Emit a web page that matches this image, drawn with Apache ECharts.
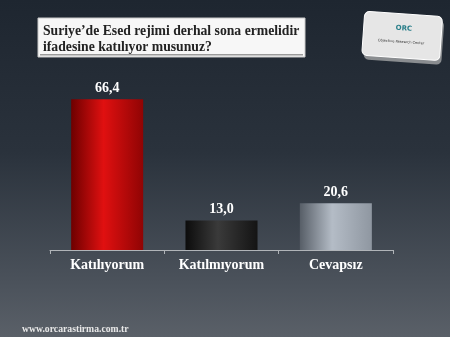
<!DOCTYPE html>
<html><head><meta charset="utf-8">
<script src="https://cdn.jsdelivr.net/npm/echarts@6/dist/echarts.min.js"></script>
<style>
html,body{margin:0;padding:0;}
#c{width:450px;height:337px;background:linear-gradient(to bottom,#1e2630 0%,#2a323c 45%,#4c535c 85%,#5a6068 100%);}
</style></head>
<body><div id="c"></div>
<script>
var titleLines = ["Suriye\u2019de Esed rejimi derhal sona ermelidir", "ifadesine kat\u0131l\u0131yor musunuz?"];
var categories = ["Kat\u0131l\u0131yorum", "Kat\u0131lm\u0131yorum", "Cevaps\u0131z"];
var values = [66.4, 13.0, 20.6];
var footer = "www.orcarastirma.com.tr";

function grad(c1, c2, c3) {
  return new echarts.graphic.LinearGradient(0, 0, 1, 0, [
    {offset: 0, color: c1}, {offset: 0.45, color: c2}, {offset: 1, color: c3}
  ]);
}
var barColors = [
  grad('#6e0000', '#e01010', '#900404'),
  grad('#0c0c0c', '#3a3a3a', '#141414'),
  grad('#575e67', '#b4bcc6', '#8f97a1')
];
var serif = '"Liberation Serif"';

var chart = echarts.init(document.getElementById('c'));
chart.setOption({
  animation: false,
  grid: {left: 50, right: 57, top: 91, bottom: 87},
  xAxis: {
    type: 'category',
    data: categories,
    axisLine: {lineStyle: {color: '#b0b4b8', width: 1}},
    axisTick: {show: true, interval: 0, length: 4, lineStyle: {color: '#b0b4b8'}},
    axisLabel: {interval: 0, color: '#ffffff', fontFamily: 'Liberation Serif', fontWeight: 'bold', fontSize: 14, margin: 8}
  },
  yAxis: {type: 'value', min: 0, max: 70, show: false, splitLine: {show: false}},
  series: [{
    type: 'bar',
    barWidth: '63%',
    data: values.map(function (v, i) { return {value: v, itemStyle: {color: barColors[i]}}; }),
    label: {
      show: true, position: 'top', distance: 4,
      color: '#ffffff', fontFamily: 'Liberation Serif', fontWeight: 'bold', fontSize: 14,
      formatter: function (p) { return p.value.toFixed(1).replace('.', ','); }
    }
  }],
  graphic: [
    {type: 'rect', shape: {x: 38, y: 18, width: 267, height: 39}, style: {fill: '#f7f7f7', stroke: '#c8c8c8', lineWidth: 1}, z: 10},
    {type: 'rect', shape: {x: 40, y: 54, width: 263, height: 1.5}, style: {fill: '#9a9a9a'}, z: 11},
    {type: 'text', x: 43, y: 23.5, style: {text: titleLines.join('\n'), fill: '#222222', font: 'bold 13.7px ' + serif, lineHeight: 16}, z: 12},
    {type: 'group', x: 403, y: 38, rotation: -0.07, z: 10, children: [
      {type: 'rect', shape: {x: -38, y: -20, width: 78, height: 44, r: 5}, style: {fill: '#8a8d90'}},
      {type: 'rect', shape: {x: -40, y: -24, width: 78, height: 44, r: 5}, style: {fill: '#e6e6e6', stroke: '#ffffff', lineWidth: 1}},
      {type: 'text', x: -8, y: -13, style: {text: 'ORC', fill: '#2a7f8a', font: 'bold 7px "DejaVu Sans"'}},
      {type: 'text', x: -25, y: 2, style: {text: 'Objective Research Center', fill: '#333', font: '3.5px "DejaVu Sans"'}}
    ]},
    {type: 'text', x: 22, y: 324, style: {text: footer, fill: '#e8e8e8', font: 'bold 9.7px ' + serif}, z: 10}
  ]
});
</script></body></html>
